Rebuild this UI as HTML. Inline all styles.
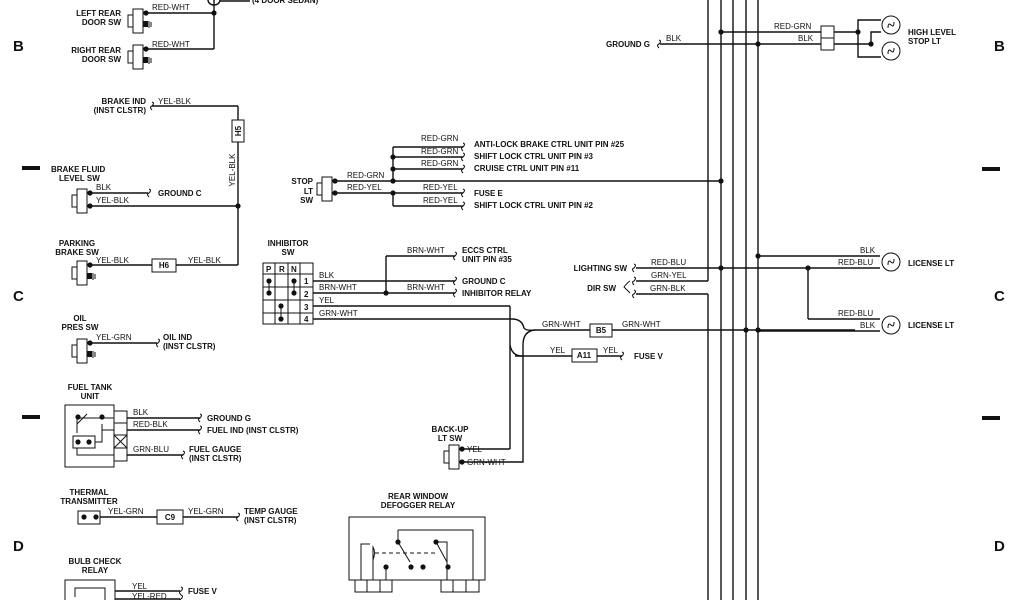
<!DOCTYPE html>
<html><head><meta charset="utf-8"><style>
html,body{margin:0;padding:0;background:#fff;}
svg{display:block;}
text{font-family:"Liberation Sans",sans-serif;fill:#111;}
.b{font-weight:bold;font-size:8px;}
.w{font-size:8px;}
.L{font-weight:bold;font-size:15px;}
</style></head><body>
<svg width="1024" height="600" viewBox="0 0 1024 600" xmlns="http://www.w3.org/2000/svg">
<defs>
<g id="sw"><rect x="0" y="-4" width="10" height="24" fill="#fff" stroke="#111" stroke-width="1"/><rect x="-5" y="2" width="5" height="12" fill="#fff" stroke="#111"/><circle cx="13" cy="0" r="2.6" fill="#111"/></g>
<g id="gnd"><rect x="10" y="8" width="5" height="6" fill="#111"/><line x1="16" y1="8" x2="16" y2="15" stroke="#111"/><line x1="18" y1="9" x2="18" y2="14" stroke="#111"/></g>
<path id="sq" d="M0,-4 q3,1 0,4 q-3,1 0,4" fill="none" stroke="#111"/>
<path id="fil" d="M-3,3 q0,-6 3,-3 q3,3 3,-3" fill="none" stroke="#111" stroke-width="1"/>
</defs>
<g stroke="#111" stroke-width="1.4" fill="none">
<line x1="708" y1="0" x2="708" y2="281"/><line x1="708" y1="294" x2="708" y2="600"/>
<line x1="721" y1="0" x2="721" y2="600"/><line x1="733" y1="0" x2="733" y2="600"/>
<line x1="746" y1="0" x2="746" y2="600"/><line x1="758" y1="0" x2="758" y2="600"/>
<line x1="146" y1="13" x2="214" y2="13"/><line x1="146" y1="49" x2="214" y2="49"/><line x1="214" y1="0" x2="214" y2="49"/>
<path d="M208,0 a6,5 0 0 0 12,0"/><line x1="220" y1="1" x2="250" y2="1"/>
<line x1="152" y1="106" x2="238" y2="106"/><line x1="238" y1="106" x2="238" y2="265"/>
<line x1="90" y1="193" x2="148" y2="193"/><line x1="90" y1="206" x2="238" y2="206"/>
<line x1="90" y1="265" x2="238" y2="265"/>
<line x1="92" y1="343" x2="157" y2="343"/>
<line x1="127" y1="418" x2="200" y2="418"/><line x1="127" y1="430" x2="200" y2="430"/><line x1="127" y1="455" x2="183" y2="455"/>
<line x1="100" y1="517" x2="238" y2="517"/>
<line x1="115" y1="591" x2="180" y2="591"/><line x1="115" y1="599" x2="180" y2="599"/>
<line x1="335" y1="181" x2="721" y2="181"/><line x1="393" y1="147" x2="393" y2="181"/>
<line x1="393" y1="147" x2="463" y2="147"/><line x1="393" y1="157" x2="463" y2="157"/><line x1="393" y1="169" x2="463" y2="169"/>
<line x1="335" y1="193" x2="463" y2="193"/><line x1="393" y1="193" x2="393" y2="206"/><line x1="393" y1="206" x2="463" y2="206"/>
<line x1="313" y1="281" x2="455" y2="281"/><line x1="313" y1="293" x2="455" y2="293"/>
<line x1="386" y1="256" x2="386" y2="293"/><line x1="386" y1="256" x2="455" y2="256"/>
<line x1="313" y1="306" x2="510" y2="306"/><line x1="510" y1="306" x2="510" y2="449"/><line x1="462" y1="449" x2="510" y2="449"/>
<path d="M313,319 L512,319 Q522,319 524,328 Q526,331 535,330"/>
<path d="M462,462 L523,462 L523,345 Q523,331 535,330"/>
<path d="M510,345 Q512,356 522,356"/>
<line x1="535" y1="330" x2="855" y2="330"/>
<line x1="515" y1="356" x2="622" y2="356"/>
<line x1="660" y1="44" x2="821" y2="44"/><line x1="721" y1="32" x2="821" y2="32"/>
<line x1="834" y1="32" x2="858" y2="32"/><line x1="834" y1="44" x2="871" y2="44"/>
<path d="M881,20 L858,20 L858,57 L881,57"/><path d="M871,44 L871,32 L881,32"/>
<line x1="758" y1="256" x2="880" y2="256"/><line x1="636" y1="268" x2="880" y2="268"/>
<line x1="636" y1="281" x2="708" y2="281"/><line x1="636" y1="294" x2="708" y2="294"/>
<line x1="808" y1="268" x2="808" y2="319"/><line x1="808" y1="319" x2="880" y2="319"/>
<line x1="758" y1="331" x2="880" y2="331"/>
</g>
<g fill="#111">
<circle cx="214" cy="13" r="2.6"/><circle cx="238" cy="206" r="2.6"/>
<circle cx="393" cy="157" r="2.6"/><circle cx="393" cy="169" r="2.6"/><circle cx="393" cy="181" r="2.6"/><circle cx="393" cy="193" r="2.6"/>
<circle cx="721" cy="181" r="2.6"/><circle cx="386" cy="293" r="2.6"/>
<circle cx="721" cy="32" r="2.6"/><circle cx="758" cy="44" r="2.6"/><circle cx="858" cy="32" r="2.6"/><circle cx="871" cy="44" r="2.6"/>
<circle cx="758" cy="256" r="2.6"/><circle cx="721" cy="268" r="2.6"/><circle cx="808" cy="268" r="2.6"/>
<circle cx="746" cy="330" r="2.6"/><circle cx="758" cy="330" r="2.6"/>
<rect x="22" y="166" width="18" height="4"/><rect x="22" y="415" width="18" height="4"/>
<rect x="982" y="167" width="18" height="4"/><rect x="982" y="416" width="18" height="4"/>
</g>
<use href="#sw" x="133" y="13"/><use href="#gnd" x="133" y="13"/>
<use href="#sw" x="133" y="49"/><use href="#gnd" x="133" y="49"/>
<use href="#sw" x="77" y="193"/><circle cx="90" cy="206" r="2.6" fill="#111"/>
<use href="#sw" x="77" y="265"/><use href="#gnd" x="77" y="265"/>
<use href="#sw" x="77" y="343"/><use href="#gnd" x="77" y="343"/>
<use href="#sw" x="322" y="181"/><circle cx="335" cy="193" r="2.6" fill="#111"/>
<use href="#sw" x="449" y="449"/><circle cx="462" cy="462" r="2.6" fill="#111"/>
<use href="#sq" x="152" y="106"/><use href="#sq" x="149" y="193"/><use href="#sq" x="158" y="343"/>
<use href="#sq" x="200" y="418"/><use href="#sq" x="200" y="430"/><use href="#sq" x="183" y="455"/>
<use href="#sq" x="238" y="517"/><use href="#sq" x="181" y="591"/><use href="#sq" x="181" y="599"/>
<use href="#sq" x="463" y="147"/><use href="#sq" x="463" y="157"/><use href="#sq" x="463" y="169"/>
<use href="#sq" x="463" y="193"/><use href="#sq" x="463" y="206"/>
<use href="#sq" x="455" y="256"/><use href="#sq" x="455" y="281"/><use href="#sq" x="455" y="293"/>
<use href="#sq" x="622" y="356"/><use href="#sq" x="659" y="44"/><use href="#sq" x="634" y="268"/>
<use href="#sq" x="634" y="281"/><use href="#sq" x="634" y="294"/>
<path d="M630,281 q-3,2 -6,6 q3,3 6,6" fill="none" stroke="#111"/>
<g fill="#fff" stroke="#111" stroke-width="1">
<rect x="232" y="120" width="12" height="22"/>
<rect x="152" y="259" width="24" height="13"/>
<rect x="157" y="510" width="26" height="14"/>
<rect x="590" y="324" width="22" height="13"/>
<rect x="572" y="349" width="25" height="13"/>
<rect x="821" y="26" width="13" height="12"/><rect x="821" y="38" width="13" height="12"/>
<circle cx="891" cy="25" r="9"/><circle cx="891" cy="51" r="9"/>
<circle cx="891" cy="262" r="9"/><circle cx="891" cy="325" r="9"/>
<rect x="65" y="405" width="49" height="62"/>
<rect x="114" y="411" width="13" height="12"/><rect x="114" y="423" width="13" height="12"/><rect x="114" y="435" width="13" height="13"/><rect x="114" y="448" width="13" height="13"/>
<rect x="73" y="436" width="22" height="12"/>
<rect x="78" y="511" width="22" height="13"/>
<rect x="65" y="580" width="50" height="25"/>
<rect x="263" y="263" width="50" height="61"/>
<rect x="349" y="517" width="136" height="63"/>
<rect x="355" y="580" width="12" height="12"/><rect x="367" y="580" width="13" height="12"/><rect x="380" y="580" width="12" height="12"/>
<rect x="441" y="580" width="12" height="12"/><rect x="453" y="580" width="13" height="12"/><rect x="466" y="580" width="13" height="12"/>
</g>
<use href="#fil" x="891" y="25"/><use href="#fil" x="891" y="51"/><use href="#fil" x="891" y="262"/><use href="#fil" x="891" y="325"/>
<g stroke="#111" fill="none" stroke-width="1">
<line x1="263" y1="274" x2="313" y2="274"/><line x1="263" y1="287" x2="313" y2="287"/><line x1="263" y1="300" x2="313" y2="300"/><line x1="263" y1="313" x2="313" y2="313"/>
<line x1="275" y1="263" x2="275" y2="324"/><line x1="288" y1="263" x2="288" y2="324"/><line x1="300" y1="263" x2="300" y2="324"/>
<line x1="269" y1="281" x2="269" y2="293"/><line x1="294" y1="281" x2="294" y2="293"/><line x1="281" y1="306" x2="281" y2="319"/>
<line x1="114" y1="435" x2="127" y2="448"/><line x1="127" y1="435" x2="114" y2="448"/>
<path d="M77,424 L77,433"/><path d="M77,424 L87,414"/><path d="M102,424 L102,442 L95,442"/><path d="M77,448 L77,455 L114,455"/><path d="M77,424 L77,418 L114,418"/><path d="M102,424 L102,430 L114,430"/>
<path d="M75,597 L75,588 L105,588 L105,600"/>
<path d="M361,580 L361,544 L370,544"/><path d="M373,580 L373,547 Q376,552 373,560"/><path d="M398,530 L398,542"/><path d="M398,530 L473,530 L473,580"/>
<path d="M436,542 L447,542 L447,580"/><line x1="398" y1="542" x2="410" y2="562"/><line x1="436" y1="542" x2="447" y2="562"/>
<line x1="375" y1="553" x2="438" y2="553" stroke-dasharray="4,3"/>
<line x1="386" y1="567" x2="386" y2="580"/>
</g>
<g fill="#111">
<circle cx="269" cy="281" r="2.6"/><circle cx="269" cy="293" r="2.6"/><circle cx="294" cy="281" r="2.6"/><circle cx="294" cy="293" r="2.6"/><circle cx="281" cy="306" r="2.6"/><circle cx="281" cy="319" r="2.6"/>
<circle cx="78" cy="417" r="2.6"/><circle cx="102" cy="417" r="2.6"/><circle cx="78" cy="442" r="2.6"/><circle cx="89" cy="442" r="2.6"/>
<circle cx="84" cy="517" r="2.6"/><circle cx="96" cy="517" r="2.6"/>
<circle cx="398" cy="542" r="2.6"/><circle cx="436" cy="542" r="2.6"/><circle cx="386" cy="567" r="2.6"/><circle cx="411" cy="567" r="2.6"/><circle cx="423" cy="567" r="2.6"/><circle cx="448" cy="567" r="2.6"/>
</g>
<text class="L" x="13" y="51">B</text><text class="L" x="13" y="301">C</text><text class="L" x="13" y="551">D</text>
<text class="L" x="994" y="51">B</text><text class="L" x="994" y="301">C</text><text class="L" x="994" y="551">D</text>
<g class="b">
<text x="121" y="16" text-anchor="end">LEFT REAR</text><text x="121" y="25" text-anchor="end">DOOR SW</text>
<text x="121" y="53" text-anchor="end">RIGHT REAR</text><text x="121" y="62" text-anchor="end">DOOR SW</text>
<text x="252" y="3">(4 DOOR SEDAN)</text>
<text x="146" y="104" text-anchor="end">BRAKE IND</text><text x="146" y="113" text-anchor="end">(INST CLSTR)</text>
<text x="51" y="172">BRAKE FLUID</text><text x="59" y="181">LEVEL SW</text>
<text x="158" y="196">GROUND C</text>
<text x="77" y="246" text-anchor="middle">PARKING</text><text x="77" y="255" text-anchor="middle">BRAKE SW</text>
<text x="80" y="321" text-anchor="middle">OIL</text><text x="80" y="330" text-anchor="middle">PRES SW</text>
<text x="163" y="340">OIL IND</text><text x="163" y="349">(INST CLSTR)</text>
<text x="90" y="390" text-anchor="middle">FUEL TANK</text><text x="90" y="399" text-anchor="middle">UNIT</text>
<text x="207" y="421">GROUND G</text><text x="207" y="433">FUEL IND (INST CLSTR)</text>
<text x="189" y="452">FUEL GAUGE</text><text x="189" y="461">(INST CLSTR)</text>
<text x="89" y="495" text-anchor="middle">THERMAL</text><text x="89" y="504" text-anchor="middle">TRANSMITTER</text>
<text x="244" y="514">TEMP GAUGE</text><text x="244" y="523">(INST CLSTR)</text>
<text x="95" y="564" text-anchor="middle">BULB CHECK</text><text x="95" y="573" text-anchor="middle">RELAY</text>
<text x="188" y="594">FUSE V</text>
<text x="313" y="184" text-anchor="end">STOP</text><text x="313" y="194" text-anchor="end">LT</text><text x="313" y="203" text-anchor="end">SW</text>
<text x="474" y="147">ANTI-LOCK BRAKE CTRL UNIT PIN #25</text>
<text x="474" y="159">SHIFT LOCK CTRL UNIT PIN #3</text>
<text x="474" y="171">CRUISE CTRL UNIT PIN #11</text>
<text x="474" y="196">FUSE E</text>
<text x="474" y="208">SHIFT LOCK CTRL UNIT PIN #2</text>
<text x="288" y="246" text-anchor="middle">INHIBITOR</text><text x="288" y="255" text-anchor="middle">SW</text>
<text x="266" y="272">P</text><text x="279" y="272">R</text><text x="291" y="272">N</text>
<text x="304" y="284">1</text><text x="304" y="297">2</text><text x="304" y="310">3</text><text x="304" y="322">4</text>
<text x="462" y="253">ECCS CTRL</text><text x="462" y="262">UNIT PIN #35</text>
<text x="462" y="284">GROUND C</text><text x="462" y="296">INHIBITOR RELAY</text>
<text x="634" y="359">FUSE V</text>
<text x="450" y="432" text-anchor="middle">BACK-UP</text><text x="450" y="441" text-anchor="middle">LT SW</text>
<text x="418" y="499" text-anchor="middle">REAR WINDOW</text><text x="418" y="508" text-anchor="middle">DEFOGGER RELAY</text>
<text x="650" y="47" text-anchor="end">GROUND G</text>
<text x="908" y="35">HIGH LEVEL</text><text x="908" y="44">STOP LT</text>
<text x="627" y="271" text-anchor="end">LIGHTING SW</text>
<text x="616" y="291" text-anchor="end">DIR SW</text>
<text x="908" y="266">LICENSE LT</text><text x="908" y="328">LICENSE LT</text>
<text x="164" y="268" text-anchor="middle">H6</text><text x="170" y="520" text-anchor="middle">C9</text>
<text x="601" y="333" text-anchor="middle">B5</text><text x="584" y="358" text-anchor="middle">A11</text>
<text transform="translate(241,131) rotate(-90)" text-anchor="middle">H5</text>
</g>
<g class="w">
<text x="152" y="10">RED-WHT</text><text x="152" y="47">RED-WHT</text>
<text x="158" y="104">YEL-BLK</text>
<text transform="translate(235,170) rotate(-90)" text-anchor="middle">YEL-BLK</text>
<text x="96" y="190">BLK</text><text x="96" y="203">YEL-BLK</text>
<text x="96" y="263">YEL-BLK</text><text x="188" y="263">YEL-BLK</text>
<text x="96" y="340">YEL-GRN</text>
<text x="133" y="415">BLK</text><text x="133" y="427">RED-BLK</text><text x="133" y="452">GRN-BLU</text>
<text x="108" y="514">YEL-GRN</text><text x="188" y="514">YEL-GRN</text>
<text x="132" y="589">YEL</text><text x="132" y="599">YEL-RED</text>
<text x="421" y="141">RED-GRN</text><text x="421" y="154">RED-GRN</text><text x="421" y="166">RED-GRN</text>
<text x="347" y="178">RED-GRN</text><text x="347" y="190">RED-YEL</text>
<text x="423" y="190">RED-YEL</text><text x="423" y="203">RED-YEL</text>
<text x="319" y="278">BLK</text><text x="319" y="290">BRN-WHT</text><text x="319" y="303">YEL</text><text x="319" y="316">GRN-WHT</text>
<text x="407" y="253">BRN-WHT</text><text x="407" y="290">BRN-WHT</text>
<text x="542" y="327">GRN-WHT</text><text x="622" y="327">GRN-WHT</text>
<text x="550" y="353">YEL</text><text x="603" y="353">YEL</text>
<text x="467" y="452">YEL</text><text x="467" y="465">GRN-WHT</text>
<text x="666" y="41">BLK</text><text x="774" y="29">RED-GRN</text><text x="798" y="41">BLK</text>
<text x="651" y="265">RED-BLU</text><text x="651" y="278">GRN-YEL</text><text x="650" y="291">GRN-BLK</text>
<text x="860" y="253">BLK</text><text x="838" y="265">RED-BLU</text>
<text x="838" y="316">RED-BLU</text><text x="860" y="328">BLK</text>
</g>
</svg>
</body></html>
